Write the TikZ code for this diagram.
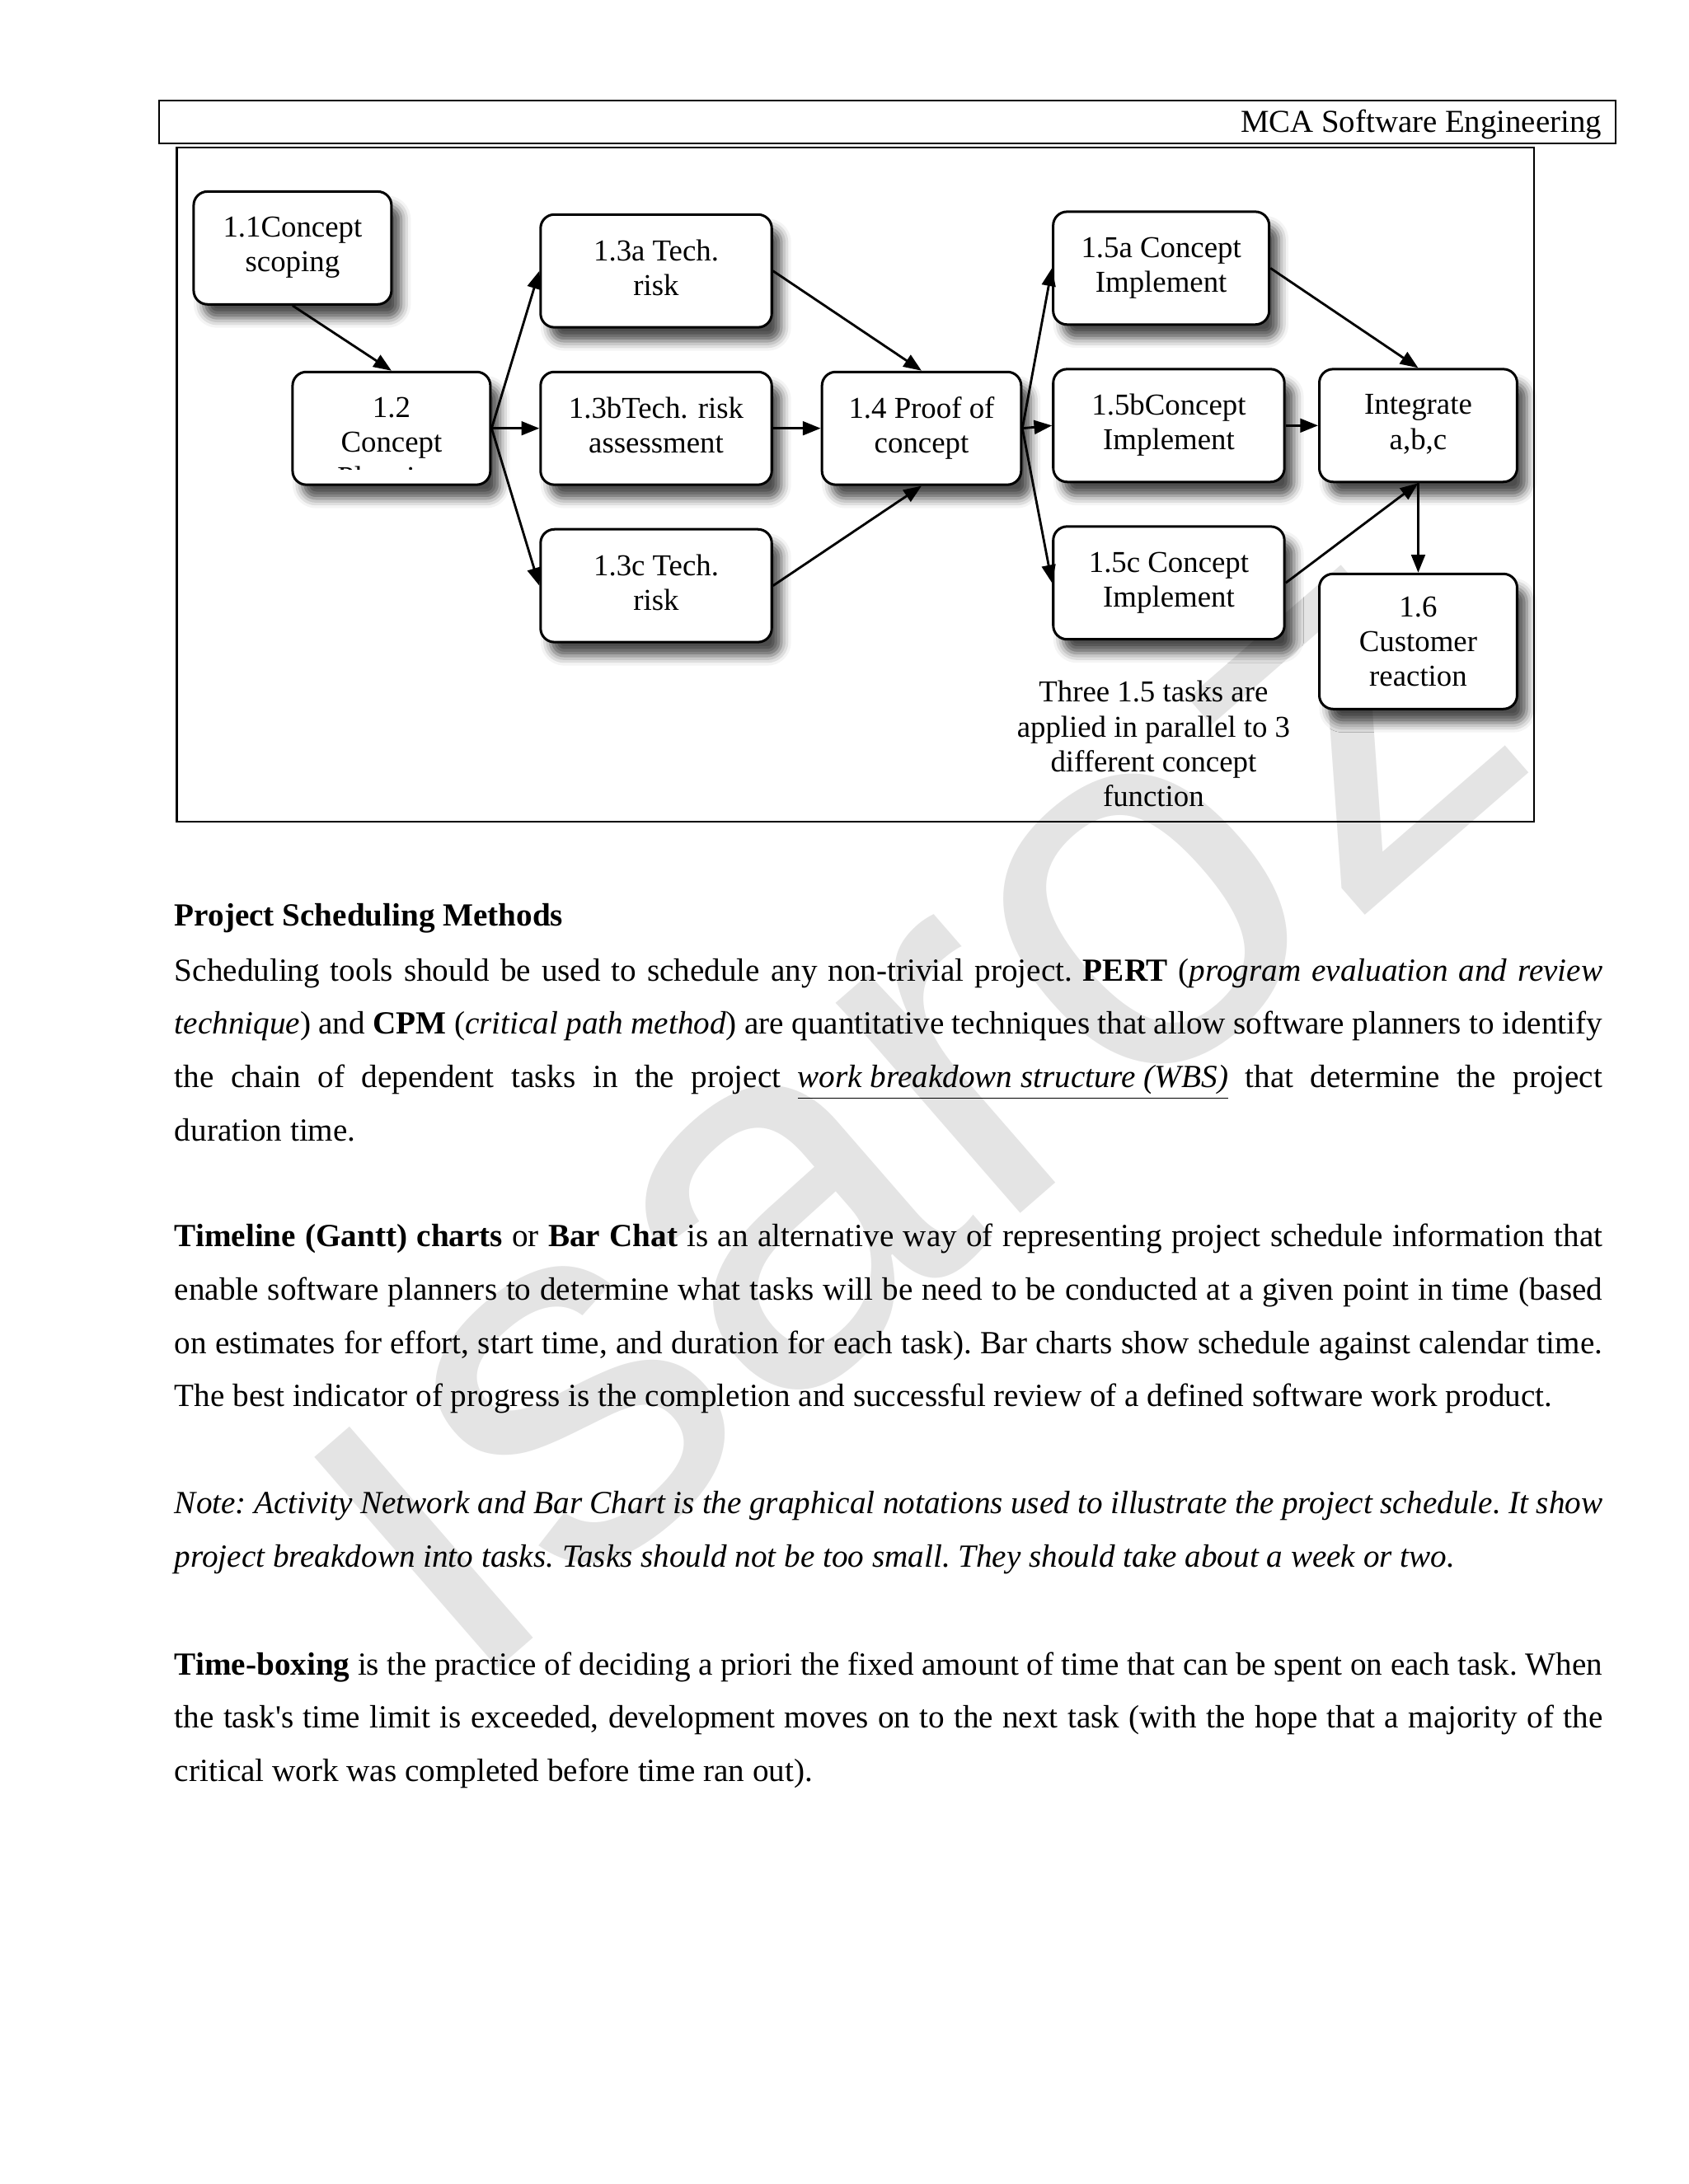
\documentclass[tikz,border=0pt]{standalone}
\usepackage{fontspec}
\setmainfont{Liberation Serif}
\newfontfamily\wmfont{Liberation Sans}
\usetikzlibrary{positioning,calc,arrows.meta,shadows.blur}
\definecolor{wmark}{HTML}{E4E4E4}
\newcommand{\jline}[1]{\makebox[517.6pt][s]{#1}}
\tikzset{
  task/.style  ={draw, rounded corners=5pt, line width=0.9pt, fill=white,
                 minimum width=71.7pt, minimum height=40.9pt, align=center,
                 inner sep=2pt, text depth=2.6pt, font=\fontsize{11}{12.6}\selectfont,
                 blur shadow={shadow xshift=3.5pt, shadow yshift=-5pt,
                              shadow blur radius=3.5pt, shadow opacity=70}},
  % the three wider boxes
  wide/.style  ={task, minimum width=83.8pt},
  flow/.style  ={-{Triangle[length=6.5pt,width=5pt]}, line width=0.85pt},
  para/.style  ={anchor=base west, inner sep=0pt, align=left,
                 font=\fontsize{11.7}{19.34}\selectfont\frenchspacing},
}

\begin{document}
\begin{tikzpicture}[x=0.505pt, y=-0.505pt]
    \useasboundingbox (0,0) rectangle (1212,1568);
    % watermark
    \node[text=wmark, inner sep=0pt, rotate=41,
          font=\wmfont\fontsize{192}{192}\selectfont] (WM) at (655,806) {ısaroz};
    % page header
    \draw[line width=0.6pt] (114,72) rectangle (1160,103);
    \node[anchor=base east, inner sep=0pt, font=\fontsize{11.6}{14}\selectfont]
          (HD) at (1150,95) {MCA Software Engineering};
    % figure frame
    \draw[line width=0.7pt] (127,106) rectangle (1101,590);
    % tasks
    \node[task] (T11) at (210,178)   {1.1Concept\\scoping};
    \node[task] (T12) at (281,307.5) {1.2\\Concept};
    \node[wide] (T3a) at (471,194.5) {1.3a Tech.\\risk};
    \node[wide] (T3b) at (471,307.5) {1.3bTech. risk\\assessment};
    \node[wide] (T3c) at (471,420.5) {1.3c Tech.\\risk};
    \node[task, minimum width=72.2pt] (T4) at (661.5,307.5) {1.4 Proof of\\concept};
    \node[task, minimum width=78.3pt] (T5a) at (833.5,192.5) {1.5a Concept\\Implement};
    \node[wide] (T5b) at (839,305.5) {1.5bConcept\\Implement};
    \node[wide] (T5c) at (839,418.5) {1.5c Concept\\Implement};
    \node[task] (I)   at (1018,305.5) {Integrate\\a,b,c};
    \node[task, minimum height=49pt, text depth=0pt] (T6) at (1018,460.5) {1.6\\Customer\\reaction};
    % third line of 1.2, cut off by its box
    \begin{scope}
      \clip (215,330) rectangle (347,337);
      \node[anchor=base, inner sep=0pt, font=\fontsize{11}{12.6}\selectfont]
            (T12p) at (281,350) {Planning};
    \end{scope}
    % remark
    \node[align=center, font=\fontsize{11}{12.6}\selectfont] (RM) at (828,534)
          {Three 1.5 tasks are\\applied in parallel to 3\\different concept\\function};
    % flows
    \draw[flow] (T11.south) -- (T12.north);
    \draw[flow] (T12.east) -- (T3a.west);  \draw[flow] (T12.east) -- (T3b.west);
    \draw[flow] (T12.east) -- (T3c.west);
    \draw[flow] (T3a.east) -- (T4.north);  \draw[flow] (T3b.east) -- (T4.west);
    \draw[flow] (T3c.east) -- (T4.south);
    \draw[flow] (T4.east) -- (T5a.west);   \draw[flow] (T4.east) -- (T5b.west);
    \draw[flow] (T4.east) -- (T5c.west);
    \draw[flow] (T5a.east) -- (I.north);   \draw[flow] (T5b.east) -- (I.west);
    \draw[flow] (T5c.east) -- (I.south);
    \draw[flow] (I.south) -- (T6.north);
    % body text (a node's base is its last line)
    \node[para, font=\fontsize{11.7}{19.34}\selectfont\bfseries] (H1) at (125,665)
          {Project Scheduling Methods};
    \node[para] (P1) at (125,819) {%
      \jline{Scheduling tools should be used to schedule any non-trivial project. \textbf{PERT} (\textit{program evaluation and review}}\\
      \jline{\textit{technique}) and \textbf{CPM} (\textit{critical path method}) are quantitative techniques that allow software planners to identify}\\
      \jline{the chain of dependent tasks in the project \underline{\textit{work breakdown structure (WBS)}} that determine the project}\\
      duration time.};
    \node[para] (P2) at (125,1010) {%
      \jline{\textbf{Timeline (Gantt) charts} or \textbf{Bar Chat} is an alternative way of representing project schedule information that}\\
      \jline{enable software planners to determine what tasks will be need to be conducted at a given point in time (based}\\
      \jline{on estimates for effort, start time, and duration for each task). Bar charts show schedule against calendar time.}\\
      The best indicator of progress is the completion and successful review of a defined software work product.};
    \node[para, font=\fontsize{11.7}{19.34}\selectfont\frenchspacing\itshape] (P3) at (125,1125) {%
      \jline{Note: Activity Network and Bar Chart is the graphical notations used to illustrate the project schedule. It show}\\
      project breakdown into tasks. Tasks should not be too small. They should take about a week or two.};
    \node[para] (P4) at (125,1279) {%
      \jline{\textbf{Time-boxing} is the practice of deciding a priori the fixed amount of time that can be spent on each task. When}\\
      \jline{the task\textquotesingle s time limit is exceeded, development moves on to the next task (with the hope that a majority of the}\\
      critical work was completed before time ran out).};
\end{tikzpicture}
\end{document}
